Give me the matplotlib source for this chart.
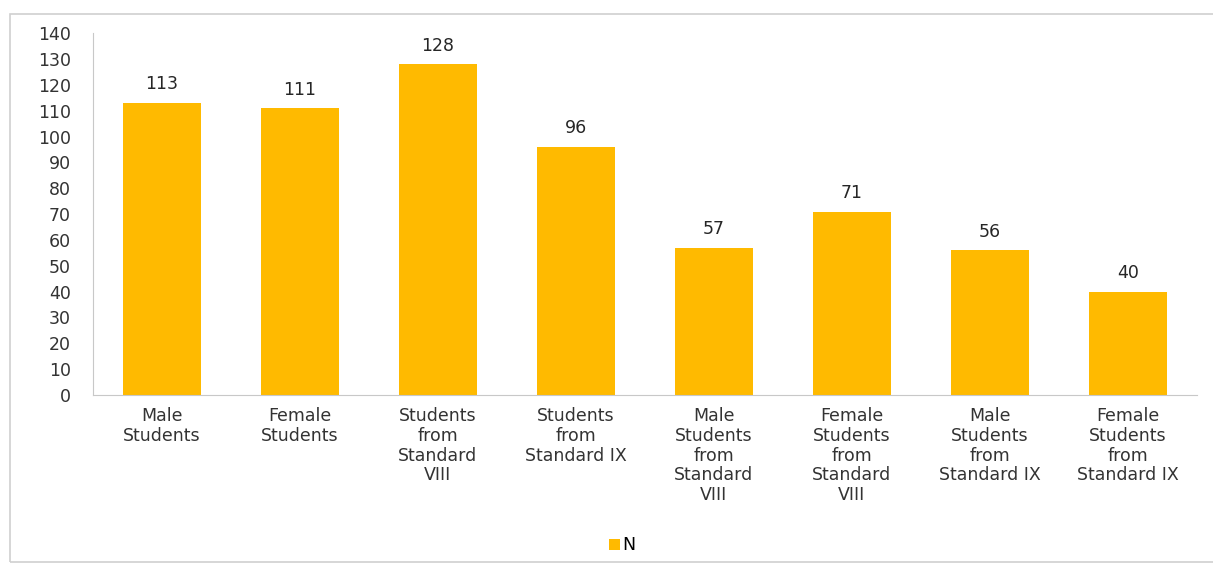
from matplotlib import pyplot as plt
from matplotlib.patches import Rectangle
import numpy as np

categorias = ["Male\nStudents", "Female\nStudents", "Students\nfrom\nStandard\nVIII",
              "Students\nfrom\nStandard IX", "Male\nStudents\nfrom\nStandard\nVIII",
              "Female\nStudents\nfrom\nStandard\nVIII", "Male\nStudents\nfrom\nStandard IX",
              "Female\nStudents\nfrom\nStandard IX"]
valores = [113, 111, 128, 96, 57, 71, 56, 40]
cor = "#FFBA00"

plt.rcParams["font.family"] = ["DejaVu Sans"]
tamanho = 12.5

fig = plt.figure(figsize = (12.13, 5.65), dpi = 100)
ax = fig.add_axes([0.0767, 0.301, 0.91, 0.64])

x = np.arange(len(valores))
barras = ax.bar(x, valores, width = 0.57, color = cor, label = "N")
ax.bar_label(barras, padding = 7, fontsize = tamanho, color = "#262626")

ax.set_xlim(-0.5, len(valores) - 0.5)
ax.set_ylim(0, 140)
ax.set_yticks(range(0, 141, 10))
ax.set_xticks(x)
ax.set_xticklabels(categorias, fontsize = tamanho, color = "#333333", linespacing = 1.12)
ax.tick_params(axis = "y", length = 0, labelsize = tamanho, labelcolor = "#333333", pad = 16)
ax.tick_params(axis = "x", length = 0, pad = 9)

for lado in ["top", "right"]:
    ax.spines[lado].set_visible(False)
ax.spines["left"].set_color("#c8c8c8")
ax.spines["bottom"].set_color("#c8c8c8")

fig.legend(loc = "center", bbox_to_anchor = (0.513, 0.035), frameon = False,
           fontsize = tamanho, handlelength = 0.6, handleheight = 0.6, handletextpad = 0.15)

fig.patches.append(Rectangle((0.008, 0.005), 0.995, 0.97, transform = fig.transFigure,
                             fill = False, edgecolor = "#d0d0d0", linewidth = 1.2))

fig.savefig("out.png", dpi = 100)
